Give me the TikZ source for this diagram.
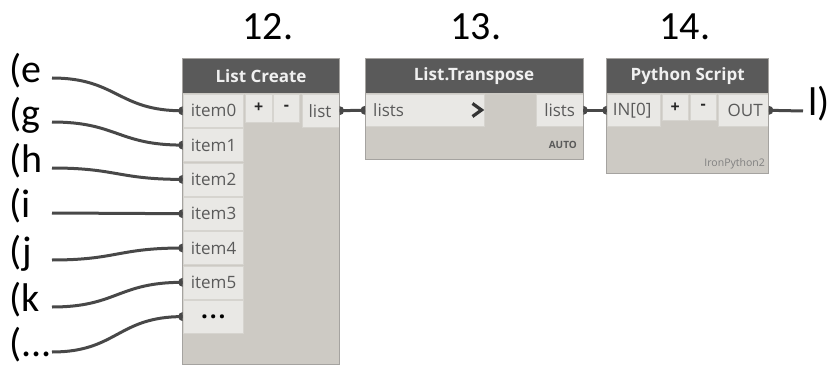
\documentclass[tikz,border=0pt]{standalone}
\usepackage{fontspec}
\newfontfamily\labfont{Carlito}
\newfontfamily\uifont{Open Sans}
\definecolor{headgray}{RGB}{90,90,90}
\definecolor{bodygray}{RGB}{205,202,196}
\definecolor{cellgray}{RGB}{233,232,229}
\definecolor{celledge}{RGB}{214,212,207}
\definecolor{nodeedge}{RGB}{165,163,160}
\definecolor{wiregray}{RGB}{72,72,72}
\definecolor{porttext}{RGB}{90,90,90}
\begin{document}
\begin{tikzpicture}[x=1pt,y=-1pt,
  body/.style={fill=bodygray, inner sep=0pt, anchor=north west},
  header/.style={fill=headgray, inner sep=0pt, anchor=north west,
    font=\uifont\bfseries\fontsize{17}{20}\selectfont, text=white!94!black},
  cell/.style={fill=cellgray, draw=celledge, line width=0.6pt, inner sep=0pt, anchor=north west},
  ptext/.style={font=\uifont\fontsize{17}{20}\selectfont, text=porttext, inner sep=0pt},
  btext/.style={font=\uifont\bfseries\fontsize{16}{18}\selectfont, text=black!85},
  wire/.style={draw=wiregray, line width=3pt},
  lab/.style={font=\labfont\fontsize{40}{48}\selectfont, inner sep=0pt},
  edge/.style={draw=nodeedge, line width=0.8pt}]
\useasboundingbox (0,0) rectangle (828,369);

% step numbers
\node[lab, anchor=base] (n12) at (268,40) {12.};
\node[lab, anchor=base] (n13) at (476,40) {13.};
\node[lab, anchor=base] (n14) at (685,40) {14.};

% ---------------- List Create ----------------
\node[body, minimum width=156.3pt, minimum height=305.7pt] (lc) at (182.7,58.3) {};
\node[header, minimum width=156.3pt, minimum height=35pt] (lch) at (182.7,58.3) {List Create};
\foreach \k in {0,1,2,3,4,5} {
  \node[cell, minimum width=60.6pt, minimum height=33pt] (i\k) at (182.7,{94+34.3*\k}) {};
  \node[ptext, anchor=west] (ti\k) at ([xshift=8pt]i\k.west) {item\k};
}
\node[cell, minimum width=60.6pt, minimum height=33pt,
  font=\uifont\bfseries\fontsize{24}{26}\selectfont, text=black] (idots) at (182.7,299.8) {.\kern2pt.\kern2pt.};
\node[cell, minimum width=26.7pt, minimum height=27.7pt, btext] (lcplus) at (245,94) {+};
\node[cell, minimum width=25.7pt, minimum height=27.7pt, btext] (lcminus) at (273.3,94) {-};
\node[cell, minimum width=37.3pt, minimum height=32.7pt] (lst) at (301.7,94) {};
\node[ptext, anchor=east] (tlst) at ([xshift=-8pt]lst.east) {list};
\draw[edge] (lc.north west) rectangle (lc.south east);

% ---------------- List.Transpose ----------------
\node[body, minimum width=217.7pt, minimum height=101pt] (tr) at (365,58.3) {};
\node[header, minimum width=217.7pt, minimum height=35pt] (trh) at (365,58.3) {List.Transpose};
\node[cell, minimum width=119pt, minimum height=32pt] (tin) at (365,94) {};
\node[ptext, anchor=west] (ttin) at ([xshift=8pt]tin.west) {lists};
% lacing chevron
\draw[black!80, line width=3.2pt, line join=miter] (472.5,103.5) -- (481.5,110) -- (472.5,116.5);
\node[cell, minimum width=46.7pt, minimum height=32pt] (tout) at (536,94) {};
\node[ptext, anchor=east] (ttout) at ([xshift=-8pt]tout.east) {lists};
\node[font=\uifont\bfseries\fontsize{10}{12}\selectfont, text=porttext, inner sep=0pt, anchor=east] (auto) at (577,145) {AUTO};
\draw[edge] (tr.north west) rectangle (tr.south east);

% ---------------- Python Script ----------------
\node[body, minimum width=161.6pt, minimum height=115pt] (py) at (606.7,58.3) {};
\node[header, minimum width=161.6pt, minimum height=35pt] (pyh) at (606.7,58.3) {Python Script};
\node[cell, minimum width=53.3pt, minimum height=32pt] (pin) at (606.7,94) {};
\node[ptext, anchor=west] (tpin) at ([xshift=6pt]pin.west) {IN[0]};
\node[cell, minimum width=26.6pt, minimum height=26pt, btext] (pyplus) at (661.7,94) {+};
\node[cell, minimum width=26pt, minimum height=26pt, btext] (pyminus) at (690,94) {-};
\node[cell, minimum width=50.6pt, minimum height=32pt] (pout) at (717.7,94) {};
\node[ptext, anchor=east] (tpout) at ([xshift=-6pt]pout.east) {OUT};
\node[font=\uifont\fontsize{10.5}{12}\selectfont, text=black!50, inner sep=0pt, anchor=east] (iron) at (765,163.5) {IronPython2};
\draw[edge] (py.north west) rectangle (py.south east);

% ---------------- input labels and wires ----------------
\foreach \n/\t/\y/\p in {e/e/78/i0, g/g/122/i1, h/h/168/i2, i/i/213/i3,
                         j/j/260/i4, k/k/307/i5} {
  \node[lab, anchor=mid west] (l\n) at (9,\y+2) {(\t};
  \coordinate (w\n) at (52,\y);
  \draw[wire] (w\n) .. controls +(65,0) and +(-65,0) .. (\p.west);
}
\node[lab, anchor=mid west] (ld) at (9,354) {(.\kern0pt.\kern0pt.};
\coordinate (wd) at (52,352);
\draw[wire] (wd) .. controls +(65,0) and +(-65,0) .. (idots.west);

% connections between nodes
\draw[wire] (lst.east) -- (tin.west);
\draw[wire] (tout.east) -- (pin.west);
\node[lab, anchor=mid west] (lout) at (808,113) {l)};
\coordinate (wout) at (803,111);
\draw[wire] (pout.east) -- (wout);

% port markers
\foreach \p in {i0,i1,i2,i3,i4,i5,idots,tin,pin}
  \fill[wiregray] ([yshift=4.5pt]\p.west) arc[start angle=90,end angle=270,radius=4.5pt] -- cycle;
\foreach \p in {lst,tout,pout}
  \fill[wiregray] ([yshift=4.5pt]\p.east) arc[start angle=90,end angle=-90,radius=4.5pt] -- cycle;
\end{tikzpicture}
\end{document}
